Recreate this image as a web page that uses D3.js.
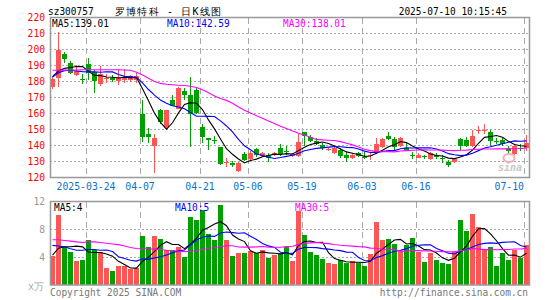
<!DOCTYPE html>
<html>
<head>
<meta charset="utf-8">
<script src="https://cdnjs.cloudflare.com/ajax/libs/d3/7.8.5/d3.min.js"></script>
<style>
body { margin: 0; background: #fff; }
text { font-family: "DejaVu Sans Mono", monospace; font-size: 10px; }
</style>
</head>
<body>
<div id="chart-area"></div>
<script>
// 罗博特科 sz300757 - daily K line

var dates = [
    "2025-03-14","2025-03-17","2025-03-18","2025-03-19","2025-03-20","2025-03-21","2025-03-24","2025-03-25","2025-03-26","2025-03-27",
    "2025-03-28","2025-03-31","2025-04-01","2025-04-02","2025-04-03","2025-04-07","2025-04-08","2025-04-09","2025-04-10","2025-04-11",
    "2025-04-14","2025-04-15","2025-04-16","2025-04-17","2025-04-18","2025-04-21","2025-04-22","2025-04-23","2025-04-24","2025-04-25",
    "2025-04-28","2025-04-29","2025-04-30","2025-05-06","2025-05-07","2025-05-08","2025-05-09","2025-05-12","2025-05-13","2025-05-14",
    "2025-05-15","2025-05-16","2025-05-19","2025-05-20","2025-05-21","2025-05-22","2025-05-23","2025-05-26","2025-05-27","2025-05-28",
    "2025-05-29","2025-05-30","2025-06-03","2025-06-04","2025-06-05","2025-06-06","2025-06-09","2025-06-10","2025-06-11","2025-06-12",
    "2025-06-13","2025-06-16","2025-06-17","2025-06-18","2025-06-19","2025-06-20","2025-06-23","2025-06-24","2025-06-25","2025-06-26",
    "2025-06-27","2025-06-30","2025-07-01","2025-07-02","2025-07-03","2025-07-04","2025-07-07","2025-07-08","2025-07-09","2025-07-10"
];

var open = [176.5,182.2,197.0,191.8,184.1,181.4,190.8,185.9,178.2,182.0,
    182.2,180.3,181.0,181.1,180.7,159.8,147.2,139.9,162.3,151.4,
    168.6,162.9,173.8,171.3,174.9,151.8,144.7,143.6,138.9,129.3,
    129.3,123.8,134.7,131.5,137.6,133.2,134.3,134.1,138.5,136.8,
    133.4,133.6,148.3,145.1,142.6,140.3,137.3,135.1,137.2,134.3,
    132.0,135.1,132.8,134.0,135.7,138.9,146.2,144.1,139.9,138.5,
    133.8,132.2,133.2,131.5,134.3,132.0,129.9,129.5,144.1,143.5,
    139.9,149.5,149.6,148.3,143.1,143.5,138.5,134.7,138.5,138.5];

var high = [182.8,211.0,198.5,192.8,190.5,184.9,195.0,187.0,189.5,185.0,
    183.8,188.0,188.0,183.8,185.5,168.2,151.0,147.2,163.0,162.3,
    171.3,176.5,176.1,182.8,176.1,153.5,144.9,146.2,139.3,132.2,
    130.5,129.5,135.7,136.4,138.5,135.7,135.1,135.7,141.0,140.0,
    135.5,147.2,148.7,146.8,144.7,141.4,138.5,139.3,138.5,135.7,
    135.1,136.2,135.7,135.7,144.7,144.7,148.7,145.6,145.1,141.4,
    135.7,135.1,134.3,135.7,135.5,133.8,130.9,132.0,144.7,145.1,
    149.7,152.5,153.5,149.7,144.7,144.7,140.0,141.0,141.0,146.8];

var low = [175.5,176.5,191.8,184.9,183.4,178.6,181.1,172.8,177.0,179.0,
    180.0,178.0,179.0,179.7,179.0,142.0,141.4,122.6,153.5,151.0,
    164.4,162.9,168.2,139.3,159.8,141.4,137.2,141.0,127.8,126.7,
    126.7,123.2,130.5,130.5,132.6,132.6,129.5,133.6,133.6,134.3,
    133.0,133.0,139.9,142.4,140.3,137.4,136.4,134.7,132.2,129.5,
    131.5,133.0,131.5,130.9,134.7,138.5,143.5,137.2,139.3,137.0,
    131.5,132.0,131.5,130.9,131.5,129.0,126.7,128.8,136.8,138.9,
    138.9,147.2,147.2,139.9,141.0,139.9,134.7,134.3,136.4,136.8];

var close = [181.8,199.5,193.9,185.3,186.6,181.2,185.5,180.3,184.9,182.3,
    180.7,182.8,182.8,183.2,183.2,145.1,145.1,144.5,154.6,161.9,
    165.0,175.9,171.3,159.8,160.2,145.1,143.5,143.3,128.4,129.7,
    127.8,128.8,131.0,135.5,134.3,135.5,132.0,135.5,134.7,136.6,
    134.7,142.4,146.2,143.1,141.0,138.5,137.6,138.5,133.6,132.0,
    134.3,133.6,132.6,134.3,140.9,144.1,144.1,138.9,144.7,137.4,
    133.6,134.3,133.0,135.1,132.6,131.8,128.0,131.5,139.9,139.9,
    146.2,149.7,149.7,142.6,142.9,141.0,136.8,139.9,138.3,141.5];

var ma5 = [183.0,186.6,188.2,188.7,189.4,189.3,186.5,183.8,183.7,182.8,
    182.7,182.2,182.7,182.4,182.5,175.4,167.9,160.2,154.5,150.2,
    154.2,160.4,165.7,166.8,166.4,162.5,156.0,150.4,144.1,138.0,
    134.5,131.6,129.1,130.6,131.5,133.0,133.7,134.6,134.4,134.9,
    134.7,136.8,138.9,140.6,141.5,142.2,141.3,139.7,137.8,136.0,
    135.2,134.4,133.2,133.4,135.1,137.1,139.2,140.5,142.5,141.8,
    139.7,137.8,136.6,134.7,133.7,133.4,132.1,131.8,132.8,134.2,
    137.1,141.4,145.1,145.6,146.2,145.2,142.6,140.6,139.8,139.5];

var ma10 = [182.8,185.5,186.8,187.0,186.6,186.2,186.0,186.0,185.8,186.1,
    186.0,184.4,183.2,183.0,182.7,179.1,175.0,171.5,168.4,166.4,
    164.8,164.1,163.0,160.6,158.3,158.3,158.2,158.1,155.4,152.2,
    148.5,143.8,139.8,137.3,134.7,133.8,132.6,131.9,132.5,133.2,
    133.9,135.2,136.7,137.5,138.2,138.5,139.0,139.3,139.2,138.8,
    138.7,137.8,136.5,135.6,135.6,136.2,136.8,136.8,138.0,138.5,
    138.4,138.5,138.5,138.6,137.8,136.6,134.9,134.2,133.7,134.0,
    135.2,136.8,138.4,139.2,140.2,141.1,142.0,142.9,142.7,142.9];

var ma30 = [187.0,187.0,187.1,187.2,187.2,187.3,187.3,187.3,187.3,187.3,
    187.3,187.3,187.2,187.0,185.8,184.0,182.0,180.0,178.8,178.3,
    178.0,177.7,177.5,177.0,176.2,174.8,173.0,171.0,169.4,168.2,
    166.4,164.1,162.0,160.3,158.6,157.1,155.3,153.8,152.1,150.6,
    149.1,147.7,146.5,145.2,143.8,143.5,143.3,143.1,142.4,141.4,
    140.4,139.0,137.7,136.8,136.2,136.1,136.2,136.0,136.6,136.8,
    137.0,137.2,137.3,137.2,137.2,137.1,136.9,136.8,137.0,137.1,
    137.5,137.7,137.8,137.8,137.9,137.9,137.9,138.0,138.1,138.4];

// volume, 万
var volume = [4.1,10.1,5.4,4.8,3.5,3.6,6.4,5.0,4.8,2.5,
    2.0,2.7,2.7,2.3,2.4,7.0,5.5,7.0,6.6,5.0,
    5.0,5.5,4.0,9.8,9.3,10.8,7.4,6.5,11.5,6.4,
    4.1,4.6,4.6,4.9,4.6,5.1,3.9,4.3,4.5,5.4,
    3.5,10.7,7.2,4.8,4.3,3.7,3.2,3.0,3.6,3.2,
    3.4,3.2,2.8,4.4,9.0,6.4,6.6,5.9,4.9,5.7,
    6.7,4.8,3.3,4.6,3.6,3.2,3.0,4.8,9.3,7.7,
    10.2,8.4,5.0,5.4,2.8,4.6,3.6,5.1,3.9,5.7];

var vma5 = [4.3,5.3,5.5,5.5,5.58,5.48,4.74,4.66,4.66,4.46,
    4.14,3.4,2.94,2.44,2.42,3.42,3.98,4.84,5.7,6.22,
    5.82,5.82,5.22,5.86,6.72,7.88,8.26,8.76,9.1,8.52,
    7.18,6.62,6.24,4.92,4.56,4.76,4.62,4.56,4.48,4.64,
    4.32,5.68,6.26,6.32,6.1,6.14,4.64,3.8,3.56,3.34,
    3.28,3.28,3.24,3.4,4.56,5.16,5.84,6.46,6.56,5.9,
    5.96,5.6,5.08,5.02,4.6,3.9,3.54,3.84,4.78,5.6,
    7.0,8.08,8.12,7.34,6.36,5.24,4.28,4.3,4.0,4.58];

var vma10 = [5.7,5.6,5.5,5.2,5.0,5.0,5.1,5.1,5.0,5.02,
    4.81,4.07,3.8,3.55,3.44,3.78,3.69,3.89,4.07,4.32,
    4.62,4.9,5.03,5.78,6.47,6.85,7.04,6.99,7.48,7.62,
    7.53,7.44,7.5,7.01,6.54,5.97,5.62,5.4,4.7,4.6,
    4.54,5.15,5.41,5.4,5.37,5.23,5.16,5.03,4.94,4.72,
    4.71,3.96,3.52,3.48,3.95,4.22,4.56,4.85,4.98,5.23,
    5.56,5.72,5.77,5.79,5.25,4.93,4.57,4.46,4.9,5.1,
    5.45,5.81,5.98,6.06,5.98,6.12,6.18,6.21,5.67,5.47];

var vma30 = [6.5,6.5,6.4,6.3,6.2,6.1,6.2,6.2,6.1,6.0,
    5.9,5.8,5.6,5.4,5.25,5.2,5.2,5.15,5.1,5.0,
    4.95,4.85,4.8,4.85,4.95,5.1,5.25,5.4,5.5,5.65,
    5.65,5.47,5.44,5.45,5.48,5.53,5.45,5.43,5.42,5.51,
    5.56,5.83,5.98,6.06,6.13,6.02,5.94,5.81,5.71,5.65,
    5.59,5.52,5.48,5.3,5.29,5.14,5.11,5.09,4.87,4.85,
    4.94,4.94,4.9,4.89,4.86,4.79,4.76,4.78,4.94,5.02,
    5.24,5.16,5.09,5.11,5.06,5.09,5.1,5.17,5.18,5.27];

var priceTicks = [120,130,140,150,160,170,180,190,200,210,220];
var volumeTicks = [4,8,12];
var dateLabels = ["2025-03-24","2025-04-07","2025-04-21","2025-05-06","2025-05-19","2025-06-03","2025-06-16","2025-07-10"];
var priceLegend = ["MA5:139.01","MA10:142.59","MA30:138.01"];
var volumeLegend = ["MA5:4","MA10:5","MA30:5"];

var width = 545;
var height = 300;
var left = 50, right = 529.5;
var red = "#ff5555", green = "#00a000";
var maColors = ["#000000","#0000ff","#ff00ff"];

var svg = d3.select("#chart-area")
    .append("svg")
    .attr("width", width)
    .attr("height", height);

// narrow the mono font to the pixel font width
function squeeze(sel, w) {
    sel.attr("textLength", function() { return this.textContent.length * w; })
        .attr("lengthAdjust", "spacingAndGlyphs");
}

// Scales
var x = d3.scaleBand()
    .domain(dates)
    .range([50, 530]);

var y = d3.scaleLinear()
    .domain([120, 220])
    .range([177.5, 17.5]);

var yv = d3.scaleLinear()
    .domain([0, 12])
    .range([285, 201.5]);

// Grid
svg.append("g").selectAll("line")
    .data(priceTicks.slice(1, -1))
    .enter().append("line")
        .attr("x1", left).attr("x2", right)
        .attr("y1", function(d) { return y(d); })
        .attr("y2", function(d) { return y(d); })
        .attr("stroke", "#aaa")
        .attr("stroke-dasharray", "2,2")
        .attr("shape-rendering", "crispEdges");

svg.append("g").selectAll("line")
    .data(volumeTicks.slice(0, -1))
    .enter().append("line")
        .attr("x1", left).attr("x2", right)
        .attr("y1", function(d) { return yv(d); })
        .attr("y2", function(d) { return yv(d); })
        .attr("stroke", "#aaa")
        .attr("stroke-dasharray", "2,2")
        .attr("shape-rendering", "crispEdges");

[[y.range()[1], y.range()[0]], [yv.range()[1], yv.range()[0]]].forEach(function(r) {
    svg.append("g").selectAll("line")
        .data(dateLabels)
        .enter().append("line")
            .attr("x1", function(d) { return x(d) + 0.5; })
            .attr("x2", function(d) { return x(d) + 0.5; })
            .attr("y1", r[0]).attr("y2", r[1])
            .attr("stroke", "#aaa")
            .attr("stroke-dasharray", "6,4")
            .attr("shape-rendering", "crispEdges");
});

// Candles
var candle = svg.append("g").selectAll("g")
    .data(dates)
    .enter().append("g")
        .attr("fill", function(d, i) { return close[i] >= open[i] ? red : green; })
        .attr("shape-rendering", "crispEdges");

candle.append("rect")
    .attr("x", function(d) { return x(d) + 2; })
    .attr("width", 1)
    .attr("y", function(d, i) { return y(high[i]); })
    .attr("height", function(d, i) { return y(low[i]) - y(high[i]); });

candle.append("rect")
    .attr("x", function(d) { return x(d); })
    .attr("width", 5)
    .attr("y", function(d, i) { return y(Math.max(open[i], close[i])); })
    .attr("height", function(d, i) {
        return Math.max(1, Math.abs(y(open[i]) - y(close[i])));
    });

// Volume bars
svg.append("g").selectAll("rect")
    .data(dates)
    .enter().append("rect")
        .attr("x", function(d) { return x(d); })
        .attr("width", 5)
        .attr("y", function(d, i) { return yv(volume[i]); })
        .attr("height", function(d, i) { return yv(0) - yv(volume[i]); })
        .attr("fill", function(d, i) { return close[i] >= open[i] ? red : green; })
        .attr("shape-rendering", "crispEdges");

// MA lines
function maLine(scale) {
    return d3.line()
        .x(function(v, i) { return x(dates[i]) + 2.5; })
        .y(function(v) { return scale(v); });
}

[ma5, ma10, ma30].forEach(function(s, k) {
    svg.append("path")
        .attr("d", maLine(y)(s))
        .attr("fill", "none")
        .attr("stroke", maColors[k])
        .attr("stroke-width", 1.1);
});

[vma5, vma10, vma30].forEach(function(s, k) {
    svg.append("path")
        .attr("d", maLine(yv)(s))
        .attr("fill", "none")
        .attr("stroke", maColors[k])
        .attr("stroke-width", 1.1);
});

// Frames
svg.append("rect")
    .attr("x", 50.5).attr("y", 17.5)
    .attr("width", right - 50.5).attr("height", 160)
    .attr("fill", "none").attr("stroke", "#999").attr("stroke-width", 1.5);

svg.append("rect")
    .attr("x", 50.5).attr("y", 201.5)
    .attr("width", right - 50.5).attr("height", 83.5)
    .attr("fill", "none").attr("stroke", "#999").attr("stroke-width", 1.5);

// Y axes
var yAxisGroup = svg.append("g")
    .attr("transform", "translate(50,0)")
    .call(d3.axisLeft(y).tickValues(priceTicks).tickSize(0).tickPadding(5));
yAxisGroup.select(".domain").remove();
yAxisGroup.selectAll("text")
    .attr("fill", "#ff0000")
    .attr("font-family", "DejaVu Sans Mono")
    .attr("font-size", "10.5px")
    .call(squeeze, 5.8);

var yvAxisGroup = svg.append("g")
    .attr("transform", "translate(50,0)")
    .call(d3.axisLeft(yv).tickValues(volumeTicks).tickSize(0).tickPadding(5));
yvAxisGroup.select(".domain").remove();
yvAxisGroup.selectAll("text")
    .attr("fill", "#999")
    .attr("font-family", "DejaVu Sans Mono")
    .attr("font-size", "10.5px")
    .call(squeeze, 5.8);

// X axis
var xAxisGroup = svg.append("g")
    .attr("transform", "translate(-3,177.5)")
    .call(d3.axisBottom(x)
        .tickValues(dateLabels)
        .tickSize(0)
        .tickPadding(5)
        .tickFormat(function(d, i) { return i === 0 ? d : d.slice(5); }));
xAxisGroup.select(".domain").remove();
xAxisGroup.selectAll("text")
    .attr("fill", "#0a74cc")
    .attr("font-family", "DejaVu Sans Mono")
    .attr("font-size", "10.5px")
    .call(squeeze, 5.9);
xAxisGroup.selectAll(".tick:last-of-type text")
    .attr("text-anchor", "end")
    .attr("x", 0);

// Legends
var legendX = [52, 167, 283];
svg.append("g").selectAll("text")
    .data(priceLegend)
    .enter().append("text")
        .attr("x", function(d, i) { return legendX[i]; })
        .attr("y", 27)
        .attr("fill", function(d, i) { return maColors[i]; })
        .attr("font-size", "10.5px")
        .text(function(d) { return d; })
        .call(squeeze, 5.7);

var vLegendX = [54, 175, 295];
svg.append("g").selectAll("text")
    .data(volumeLegend)
    .enter().append("text")
        .attr("x", function(d, i) { return vLegendX[i]; })
        .attr("y", 210.5)
        .attr("fill", function(d, i) { return maColors[i]; })
        .attr("font-size", "10.5px")
        .text(function(d) { return d; })
        .call(squeeze, 5.7);

// Title
svg.append("text")
    .attr("x", 48).attr("y", 15)
    .attr("font-size", "11.5px")
    .text("sz300757")
    .call(squeeze, 5.7);

svg.append("text")
    .attr("x", 115).attr("y", 15)
    .attr("font-family", "Noto Sans CJK SC")
    .attr("font-size", "13.5px")
    .attr("textLength", 106)
    .attr("lengthAdjust", "spacing")
    .text("罗博特科 - 日K线图");

svg.append("text")
    .attr("x", 507).attr("y", 15)
    .attr("text-anchor", "end")
    .attr("font-size", "11px")
    .text("2025-07-10 10:15:45")
    .call(squeeze, 5.7);

// Footer
svg.append("text")
    .attr("x", 50).attr("y", 296)
    .attr("fill", "#777")
    .attr("font-size", "10.5px")
    .text("Copyright 2025 SINA.COM")
    .call(squeeze, 5.7);

svg.append("text")
    .attr("x", 528).attr("y", 296)
    .attr("text-anchor", "end")
    .attr("fill", "#777")
    .attr("font-size", "10.5px")
    .text("http://finance.sina.com.cn")
    .call(squeeze, 5.7);

svg.append("text")
    .attr("x", 28).attr("y", 290)
    .attr("fill", "#aaa")
    .attr("font-family", "Noto Sans CJK SC")
    .attr("font-size", "10px")
    .text("x万");

// sina watermark
svg.append("ellipse")
    .attr("cx", 509).attr("cy", 158)
    .attr("rx", 5.5).attr("ry", 4)
    .attr("fill", "none")
    .attr("stroke", "#f3b0b0")
    .attr("stroke-width", 2);

svg.append("text")
    .attr("x", 498).attr("y", 171)
    .attr("fill", "#c8c8c8")
    .attr("font-family", "DejaVu Sans")
    .attr("font-weight", "bold")
    .attr("font-style", "italic")
    .attr("font-size", "12px")
    .text("sina");
</script>
</body>
</html>
